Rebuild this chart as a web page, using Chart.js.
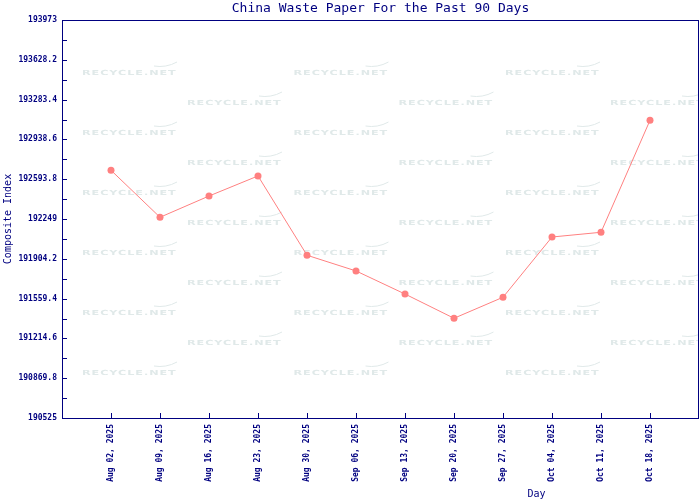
<!DOCTYPE html>
<html>
<head>
<meta charset="utf-8">
<script src="https://cdn.jsdelivr.net/npm/chart.js@4.4.0/dist/chart.umd.min.js"></script>
<style>
  html, body { margin: 0; padding: 0; background: #ffffff; }
  #wrap { width: 700px; height: 500px; }
</style>
</head>
<body>
<div id="wrap"><canvas id="wasteChart" width="700" height="500"></canvas></div>
<script>
// Chart data
const dayLabels = [
  "Aug 02, 2025", "Aug 09, 2025", "Aug 16, 2025", "Aug 23, 2025",
  "Aug 30, 2025", "Sep 06, 2025", "Sep 13, 2025", "Sep 20, 2025",
  "Sep 27, 2025", "Oct 04, 2025", "Oct 11, 2025", "Oct 18, 2025"
];
const compositeIndex = [
  192671, 192264, 192448, 192622, 191935, 191799,
  191599, 191389, 191571, 192093, 192134, 193104
];
const yTickLabels = [
  "190525", "190869.8", "191214.6", "191559.4", "191904.2", "192249",
  "192593.8", "192938.6", "193283.4", "193628.2", "193973"
];
const yTickValues = yTickLabels.map(Number);

const navy = "#000080";
const lineColor = "#ff8080";

// Draws the frame, inward ticks, watermark and titles
const decorPlugin = {
  id: "decor",
  beforeDatasetsDraw(chart) {
    const ctx = chart.ctx;
    const area = chart.chartArea;
    ctx.save();
    ctx.beginPath();
    ctx.rect(area.left, area.top, area.right - area.left, area.bottom - area.top);
    ctx.clip();
    ctx.fillStyle = "#e0e9e9";
    ctx.strokeStyle = "#e0e9e9";
    ctx.textBaseline = "middle";
    ctx.textAlign = "left";
    for (let row = 0; row < 11; row++) {
      const y = 73 + row * 30;
      const startX = row % 2 === 0 ? 82 : 187;
      for (let col = 0; col < 3; col++) {
        const x = startX + col * 211.5;
        ctx.save();
        ctx.translate(x, y);
        ctx.scale(1.6, 1);
        ctx.font = "bold 7px 'DejaVu Sans'";
        ctx.letterSpacing = "0.6px";
        ctx.fillText("RECYCLE.NET", 0, 0);
        ctx.restore();
        ctx.beginPath();
        ctx.moveTo(x + 72, y - 7);
        ctx.quadraticCurveTo(x + 84, y - 5, x + 95, y - 11);
        ctx.lineWidth = 1;
        ctx.stroke();
      }
    }
    ctx.restore();
  },
  afterDraw(chart) {
    const ctx = chart.ctx;
    const area = chart.chartArea;
    const xs = chart.scales.x;
    const ys = chart.scales.y;
    ctx.save();
    ctx.strokeStyle = navy;
    ctx.lineWidth = 1;
    ctx.strokeRect(area.left + 0.5, area.top + 0.5, area.right - area.left - 1, area.bottom - area.top);

    ctx.beginPath();
    yTickValues.forEach((v, i) => {
      const py = Math.round(ys.getPixelForValue(v)) + 0.5;
      ctx.moveTo(area.left, py);
      ctx.lineTo(area.left + 5, py);
      if (i < yTickValues.length - 1) {
        const mid = Math.round(ys.getPixelForValue((v + yTickValues[i + 1]) / 2)) + 0.5;
        ctx.moveTo(area.left, mid);
        ctx.lineTo(area.left + 5, mid);
      }
    });
    dayLabels.forEach((label, i) => {
      const px = Math.round(xs.getPixelForValue(i)) + 0.5;
      ctx.moveTo(px, area.bottom);
      ctx.lineTo(px, area.bottom - 5);
    });
    ctx.stroke();

    ctx.fillStyle = navy;
    ctx.font = "13px 'DejaVu Sans Mono'";
    ctx.textAlign = "center";
    ctx.textBaseline = "middle";
    ctx.fillText("China Waste Paper For the Past 90 Days", (area.left + area.right) / 2, 9);

    ctx.font = "10px 'DejaVu Sans Mono'";
    ctx.fillText("Day", area.left + (area.right - area.left) * 0.745, 494);

    ctx.translate(8, (area.top + area.bottom) / 2);
    ctx.rotate(-Math.PI / 2);
    ctx.fillText("Composite Index", 0, 0);
    ctx.restore();
  }
};

const ctx = document.getElementById("wasteChart").getContext("2d");
new Chart(ctx, {
  type: "line",
  data: {
    datasets: [
      {
        label: "Composite Index",
        data: compositeIndex.map((v, i) => ({ x: i, y: v })),
        borderColor: lineColor,
        backgroundColor: lineColor,
        borderWidth: 1,
        pointStyle: "circle",
        pointRadius: 3.5,
        pointBorderWidth: 0,
        pointHoverRadius: 3.5,
        fill: false,
        tension: 0,
      },
    ],
  },
  options: {
    responsive: false,
    animation: false,
    layout: { autoPadding: false, padding: { top: 20, right: 1, left: 0, bottom: 0 } },
    plugins: {
      legend: { display: false },
      tooltip: { enabled: false },
      title: { display: false },
    },
    scales: {
      x: {
        type: "linear",
        min: -1,
        max: 12,
        grid: { display: false, drawTicks: false },
        border: { display: false },
        afterBuildTicks: (scale) => {
          scale.ticks = dayLabels.map((l, i) => ({ value: i }));
        },
        afterFit: (scale) => {
          scale.height = 82;
          scale.paddingLeft = 0;
          scale.paddingRight = 0;
        },
        ticks: {
          autoSkip: false,
          maxRotation: 90,
          minRotation: 90,
          padding: 6,
          color: navy,
          font: { family: "DejaVu Sans Mono", size: 8, weight: "bold" },
          callback: (value) => dayLabels[value] || "",
        },
      },
      y: {
        min: yTickValues[0],
        max: yTickValues[yTickValues.length - 1],
        grid: { display: false, drawTicks: false },
        border: { display: false },
        afterBuildTicks: (scale) => {
          scale.ticks = yTickValues.map((v) => ({ value: v }));
        },
        afterFit: (scale) => {
          scale.width = 62;
          scale.paddingTop = 0;
          scale.paddingBottom = 0;
        },
        ticks: {
          padding: 5,
          color: navy,
          font: { family: "DejaVu Sans Mono", size: 8, weight: "bold" },
          callback: (value, index) => yTickLabels[index],
        },
      },
    },
  },
  plugins: [decorPlugin],
});
</script>
</body>
</html>
